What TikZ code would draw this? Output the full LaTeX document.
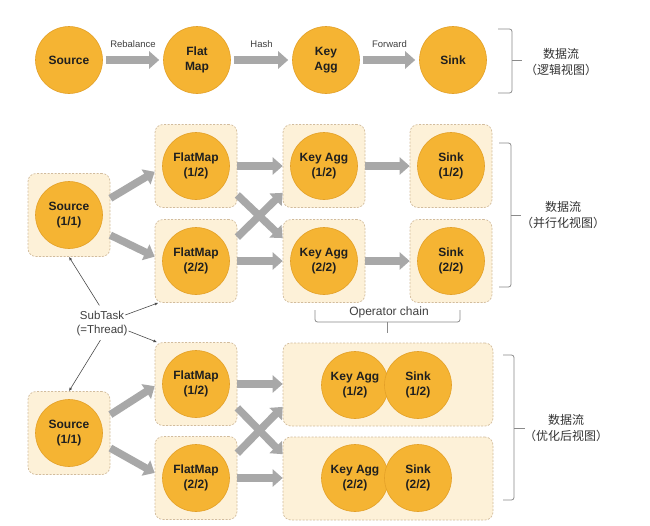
\documentclass[tikz,border=0pt]{standalone}
\usepackage{fontspec}
\setmainfont{Liberation Sans}
\newfontfamily\cjk{Noto Sans CJK SC}
\usetikzlibrary{arrows.meta,calc}
\definecolor{orf}{HTML}{F5B433}
\definecolor{ord}{HTML}{E3A027}
\definecolor{boxf}{HTML}{FDF1D8}
\definecolor{boxd}{HTML}{D2BC9C}
\definecolor{arrg}{HTML}{A8A8A8}
\definecolor{brk}{HTML}{8A8A8A}
\begin{document}
\begin{tikzpicture}[x=1pt,y=-1pt,
  op/.style={circle,fill=orf,draw=ord,line width=0.6pt,minimum size=67pt,inner sep=0pt,
    font=\fontsize{12}{14.5}\selectfont\bfseries,align=center,text=black!88},
  sbox/.style={rectangle,rounded corners=8pt,draw=boxd,fill=boxf,dash pattern=on 2pt off 1.5pt,
    line width=0.7pt,minimum width=82pt,minimum height=83pt,inner sep=0pt},
  cbox/.style={sbox,minimum width=210pt},
  flow/.style={draw=arrg,line width=7.5pt,-{Triangle[width=17pt,length=10pt]}},
  thinarr/.style={draw=black!70,line width=0.6pt,-{Latex[length=3.5pt,width=3pt]}},
  brace/.style={draw=brk,line width=0.8pt,rounded corners=2.5pt},
  lbl/.style={font=\fontsize{9.5}{11}\selectfont,text=black!75},
  txt/.style={font=\fontsize{11.5}{13}\selectfont,text=black!75,inner sep=1pt},
  cn/.style={font=\cjk\fontsize{12}{16}\selectfont,align=center,text=black!80}
]
\useasboundingbox[fill=white] (0,0) rectangle (650,525);

% ---------- top row (logical view) ----------
\node[op] (tSrc) at (69,60) {Source};
\node[op] (tFlat) at (197,60) {Flat\\Map};
\node[op] (tKey) at (326,60) {Key\\Agg};
\node[op] (tSink) at (453,60) {Sink};
\draw[flow,shorten <=3pt,shorten >=4pt] (tSrc) -- node[lbl,above=5pt]{Rebalance} (tFlat);
\draw[flow,shorten <=3pt,shorten >=4pt] (tFlat) -- node[lbl,above=5pt]{Hash} (tKey);
\draw[flow,shorten <=3pt,shorten >=4pt] (tKey) -- node[lbl,above=5pt]{Forward} (tSink);

\draw[brace] (498,29) -- (512,29) -- (512,93) -- (498,93);
\draw[brace] (512,60) -- (522,60);
\node[cn] (d1) at (561,62) {数据流\\（逻辑视图）};

% ---------- middle (parallel view) ----------
\node[sbox] (bS1) at (69,215) {};
\node[sbox] (bF11) at (196,166) {};
\node[sbox] (bF12) at (196,261) {};
\node[sbox] (bK11) at (324,166) {};
\node[sbox] (bK12) at (324,261) {};
\node[sbox] (bSk11) at (451,166) {};
\node[sbox] (bSk12) at (451,261) {};
\node[op] (cS1) at (69,215) {Source\\(1/1)};
\node[op] (cF11) at (196,166) {FlatMap\\(1/2)};
\node[op] (cF12) at (196,261) {FlatMap\\(2/2)};
\node[op] (cK11) at (324,166) {Key Agg\\(1/2)};
\node[op] (cK12) at (324,261) {Key Agg\\(2/2)};
\node[op] (cSk11) at (451,166) {Sink\\(1/2)};
\node[op] (cSk12) at (451,261) {Sink\\(2/2)};

\draw[flow] (bS1.22) -- (bF11.188);
\draw[flow] (bS1.-26) -- (bF12.174);
\draw[flow] (bF11) -- (bK11);
\draw[flow] (bF11.-35) -- (bK12.151);
\draw[flow] (bF12.30) -- (bK11.213);
\draw[flow] (bF12) -- (bK12);
\draw[flow] (bK11) -- (bSk11);
\draw[flow] (bK12) -- (bSk12);

\draw[brace] (499,143) -- (511,143) -- (511,287) -- (499,287);
\draw[brace] (511,215) -- (521,215);
\node[cn] (d2) at (563,215.5) {数据流\\（并行化视图）};

% operator chain brace
\draw[brace] (315,310) -- (315,322) -- (460,322) -- (460,310);
\draw[brace] (387,322) -- (387,333);
\node[font=\fontsize{12}{14}\selectfont,text=black!75] (oc) at (389,312) {Operator chain};

% ---------- bottom (optimized view) ----------
\node[sbox] (bS2) at (69,433) {};
\node[sbox] (bF21) at (196,384) {};
\node[sbox] (bF22) at (196,478) {};
\node[cbox] (bC1) at (388,384.5) {};
\node[cbox] (bC2) at (388,478.5) {};
\node[op] (cS2) at (69,433) {Source\\(1/1)};
\node[op] (cF21) at (196,384) {FlatMap\\(1/2)};
\node[op] (cF22) at (196,478) {FlatMap\\(2/2)};
\node[op] (cK21) at (355,385) {Key Agg\\(1/2)};
\node[op] (cSk21) at (418,385) {Sink\\(1/2)};
\node[op] (cK22) at (355,478) {Key Agg\\(2/2)};
\node[op] (cSk22) at (418,478) {Sink\\(2/2)};

\draw[flow] (bS2.24) -- (bF21.183);
\draw[flow] (bS2.-20) -- (bF22.173);
\draw[flow] (bF21) -- (bF21 -| bC1.west);
\draw[flow] (bF21.-30) -- (bC2.167.6);
\draw[flow] (bF22.31) -- (bC1.192);
\draw[flow] (bF22) -- (bF22 -| bC2.west);

\draw[brace] (503,355) -- (514,355) -- (514,500) -- (503,500);
\draw[brace] (514,428) -- (525,428);
\node[cn] (d3) at (566,428.5) {数据流\\（优化后视图）};

% ---------- SubTask annotation ----------
\node[txt] (st1) at (102,315) {SubTask};
\node[txt] (st2) at (102,331) {(=Thread)};
\draw[thinarr,shorten <=5pt] (st1.north) -- (bS1.south);
\draw[thinarr] (st1.east) -- (bF12.228);
\draw[thinarr] (st2.east) -- (bF21.133);
\draw[thinarr,shorten <=3pt] (st2.south) -- (bS2.north);
\end{tikzpicture}
\end{document}
